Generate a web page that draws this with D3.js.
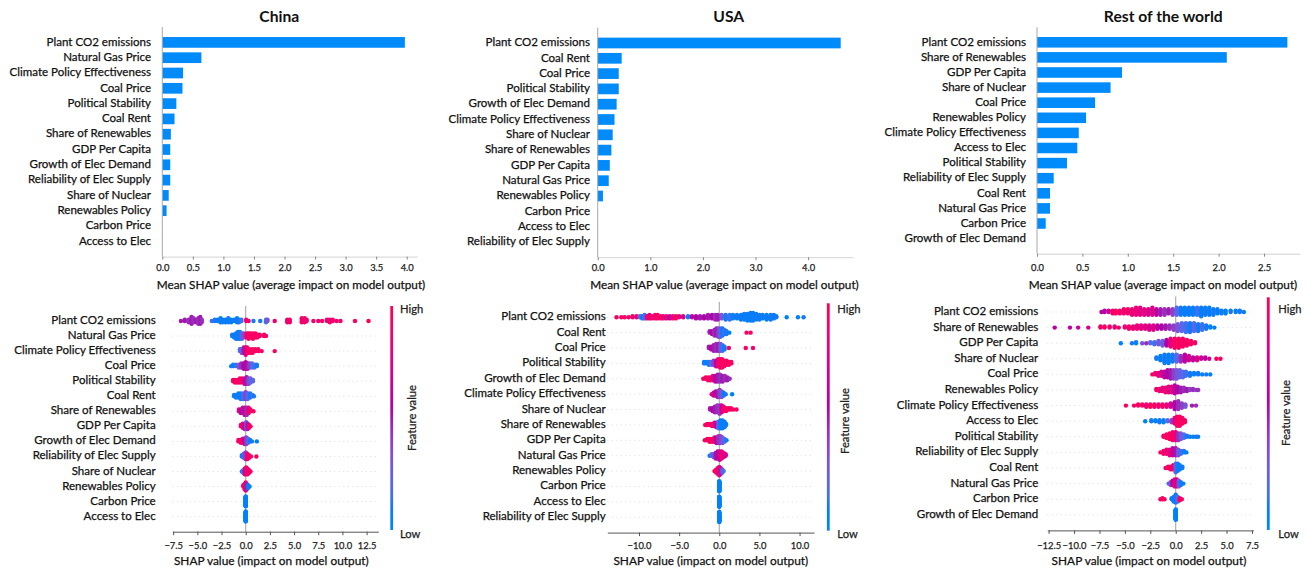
<!DOCTYPE html>
<html>
<head>
<meta charset="utf-8">
<script src="https://cdn.jsdelivr.net/npm/d3@7"></script>
<style>
  html, body { margin: 0; padding: 0; background: #ffffff; }
  svg { display: block; }
</style>
</head>
<body>
<svg id="chart" width="1307" height="569"></svg>
<script>
// ---------------------------------------------------------------
// Data: mean |SHAP| per feature (bar panels) and SHAP beeswarm
// readings per feature. Beeswarm entries are [shap, featureValue, count].
// ---------------------------------------------------------------

const chinaFeatures = ["Plant CO2 emissions", "Natural Gas Price", "Climate Policy Effectiveness", "Coal Price",
  "Political Stability", "Coal Rent", "Share of Renewables", "GDP Per Capita", "Growth of Elec Demand",
  "Reliability of Elec Supply", "Share of Nuclear", "Renewables Policy", "Carbon Price", "Access to Elec"];
const chinaMeanShap = [3.97, 0.64, 0.34, 0.33, 0.23, 0.20, 0.14, 0.13, 0.13, 0.13, 0.105, 0.07, 0, 0];

const usaFeatures = ["Plant CO2 emissions", "Coal Rent", "Coal Price", "Political Stability", "Growth of Elec Demand",
  "Climate Policy Effectiveness", "Share of Nuclear", "Share of Renewables", "GDP Per Capita", "Natural Gas Price",
  "Renewables Policy", "Carbon Price", "Access to Elec", "Reliability of Elec Supply"];
const usaMeanShap = [4.62, 0.456, 0.40, 0.40, 0.36, 0.32, 0.285, 0.26, 0.23, 0.21, 0.10, 0, 0, 0];

const rowFeatures = ["Plant CO2 emissions", "Share of Renewables", "GDP Per Capita", "Share of Nuclear", "Coal Price",
  "Renewables Policy", "Climate Policy Effectiveness", "Access to Elec", "Political Stability",
  "Reliability of Elec Supply", "Coal Rent", "Natural Gas Price", "Carbon Price", "Growth of Elec Demand"];
const rowMeanShap = [2.757, 2.09, 0.936, 0.81, 0.64, 0.54, 0.46, 0.444, 0.33, 0.184, 0.143, 0.143, 0.096, 0];

const chinaBarTicks = [0, 0.5, 1, 1.5, 2, 2.5, 3, 3.5, 4];
const usaBarTicks = [0, 1, 2, 3, 4];
const rowBarTicks = [0, 0.5, 1, 1.5, 2, 2.5];
const chinaSwarmTicks = [-7.5, -5, -2.5, 0, 2.5, 5, 7.5, 10, 12.5];
const usaSwarmTicks = [-10, -5, 0, 5, 10];
const rowSwarmTicks = [-12.5, -10, -7.5, -5, -2.5, 0, 2.5, 5, 7.5];

const chinaSwarm = [
  // Plant CO2 emissions
  [[-6.7,0.5,1],[-6.3,0.5,2],[-5.9,0.45,3],[-5.6,0.5,6],[-5.4,0.45,4],[-5.1,0.5,3],[-4.9,0.45,5],[-4.7,0.5,6],[-4.55,0.45,3],
   [-3.5,0.15,1],[-3.2,0.1,2],[-2.9,0.1,2],[-2.6,0.05,4],[-2.4,0.1,3],[-2.1,0.05,3],[-1.8,0.1,4],[-1.5,0.05,3],[-1.2,0.1,2],
   [-0.9,0.05,4],[-0.7,0.1,3],[-0.45,0.15,2],[0.05,0.85,2],[0.3,0.9,1],[0.8,0.1,1],[1.5,0.1,1],[2.1,0.15,3],[2.25,0.3,2],
   [3.0,0.85,1],[4.3,0.85,3],[4.55,0.9,3],[5.8,0.85,4],[6.1,0.9,4],[6.3,0.85,2],[7.0,0.9,1],[7.5,0.85,1],[7.9,0.9,1],
   [8.4,0.9,2],[8.7,0.85,3],[9.0,0.9,2],[9.4,0.85,1],[9.8,0.9,1],[11.3,0.95,1],[12.7,1,1]],
  // Natural Gas Price
  [[-1.4,0.1,2],[-1.2,0.05,3],[-1.0,0.1,5],[-0.8,0.05,6],[-0.6,0.1,6],[-0.4,0.2,5],[-0.2,0.35,4],[0.1,0.9,4],[0.3,0.95,5],
   [0.5,0.9,4],[0.75,0.95,5],[1.0,0.9,4],[1.2,0.95,3],[1.45,0.9,2],[1.9,0.95,2],[2.1,0.9,1]],
  // Climate Policy Effectiveness
  [[-0.6,0.15,2],[-0.4,0.3,3],[-0.2,0.5,4],[0.0,0.7,5],[0.15,0.9,4],[0.4,0.95,3],[0.7,0.9,3],[1.0,0.95,2],[1.3,0.9,2],
   [1.65,0.9,1],[3.0,0.95,1]],
  // Coal Price
  [[-1.5,0.1,1],[-1.3,0.05,2],[-1.0,0.15,2],[-0.7,0.3,3],[-0.45,0.45,4],[-0.2,0.55,5],[0.0,0.6,6],[0.2,0.5,5],[0.4,0.4,4],
   [0.65,0.2,4],[0.9,0.15,3],[1.15,0.1,2]],
  // Political Stability
  [[-1.3,0.95,2],[-1.1,0.9,3],[-0.85,0.95,3],[-0.6,0.9,4],[-0.35,0.85,4],[-0.1,0.7,5],[0.1,0.5,6],[0.3,0.35,5],[0.5,0.25,4],[0.75,0.2,2]],
  // Coal Rent
  [[-1.2,0.05,2],[-1.0,0.1,3],[-0.75,0.05,4],[-0.5,0.1,5],[-0.25,0.15,5],[0.0,0.4,6],[0.2,0.2,5],[0.45,0.1,4],[0.7,0.15,2],[0.85,0.1,1]],
  // Share of Renewables
  [[-0.7,0.85,2],[-0.5,0.6,3],[-0.3,0.5,4],[-0.1,0.7,5],[0.1,0.45,5],[0.3,0.8,4],[0.5,0.9,2],[0.8,0.95,1]],
  // GDP Per Capita
  [[-0.5,0.9,2],[-0.3,0.85,4],[-0.1,0.6,5],[0.05,0.3,6],[0.2,0.5,5],[0.35,0.85,3],[0.5,0.9,1]],
  // Growth of Elec Demand
  [[-0.75,0.95,2],[-0.5,0.9,3],[-0.3,0.85,4],[-0.1,0.6,5],[0.05,0.4,6],[0.25,0.2,4],[0.45,0.1,2],[0.65,0.1,1],[1.15,0.05,1]],
  // Reliability of Elec Supply
  [[-0.4,0.1,2],[-0.2,0.15,4],[0.0,0.4,6],[0.15,0.85,5],[0.35,0.9,3],[0.55,0.95,1],[1.1,0.95,1]],
  // Share of Nuclear
  [[-0.4,0.1,1],[-0.25,0.2,3],[-0.1,0.5,5],[0.05,0.85,6],[0.2,0.9,5],[0.35,0.85,3],[0.5,0.9,1]],
  // Renewables Policy
  [[-0.25,0.9,2],[-0.1,0.95,5],[0.0,0.85,7],[0.1,0.5,5],[0.25,0.1,3],[0.4,0.05,1]],
  // Carbon Price
  [[0,0.05,30]],
  // Access to Elec
  [[0,0.05,30]]
];

const usaSwarm = [
  // Plant CO2 emissions
  [[-12.8,0.95,1],[-12.2,0.9,1],[-11.8,0.95,1],[-11.3,0.9,1],[-10.8,0.85,2],[-10.3,0.9,2],[-9.9,0.2,2],[-9.6,0.1,3],[-9.3,0.15,4],
   [-9.0,0.85,3],[-8.7,0.8,4],[-8.4,0.9,3],[-8.0,0.85,4],[-7.7,0.95,4],[-7.3,0.8,3],[-7.0,0.9,3],[-6.6,0.75,3],[-6.2,0.6,3],
   [-5.8,0.85,3],[-5.4,0.9,3],[-5.0,0.8,2],[-4.5,0.7,2],[-3.9,0.1,2],[-3.4,0.6,2],[-2.9,0.55,3],[-2.4,0.5,3],[-1.9,0.55,3],
   [-1.4,0.5,4],[-0.9,0.55,4],[-0.5,0.45,5],[-0.2,0.5,5],[0.3,0.3,4],[0.8,0.1,5],[1.3,0.15,5],[1.7,0.05,4],[2.2,0.1,4],
   [2.7,0.05,5],[3.1,0.1,6],[3.5,0.05,7],[3.9,0.1,8],[4.2,0.05,8],[4.6,0.1,6],[5.0,0.05,5],[5.4,0.1,4],[5.9,0.05,5],
   [6.4,0.1,5],[6.8,0.05,4],[7.1,0.1,2],[8.4,0.05,1],[9.8,0.05,1],[10.5,0.1,1]],
  // Coal Rent
  [[-1.2,0.5,2],[-0.9,0.55,3],[-0.6,0.45,5],[-0.35,0.5,6],[-0.1,0.4,7],[0.15,0.2,7],[0.4,0.1,6],[0.65,0.15,4],[0.9,0.1,3],
   [1.25,0.05,1],[3.4,0.95,1],[3.9,0.9,1]],
  // Coal Price
  [[-1.3,0.5,2],[-1.0,0.55,3],[-0.7,0.5,5],[-0.4,0.45,6],[-0.1,0.5,6],[0.15,0.3,6],[0.4,0.15,5],[0.65,0.1,3],[1.2,0.95,1],
   [3.3,0.95,1],[4.2,0.9,1]],
  // Political Stability
  [[-1.9,0.1,2],[-1.6,0.05,2],[-1.3,0.1,3],[-1.0,0.2,3],[-0.7,0.4,4],[-0.4,0.6,5],[-0.15,0.8,6],[0.1,0.9,7],[0.35,0.95,7],
   [0.6,0.9,5],[0.9,0.95,4],[1.2,0.9,3],[1.5,0.95,2]],
  // Growth of Elec Demand
  [[-2.0,0.95,1],[-1.7,0.9,2],[-1.4,0.95,3],[-1.1,0.85,3],[-0.8,0.8,4],[-0.5,0.6,5],[-0.2,0.5,6],[0.1,0.45,6],[0.4,0.5,5],
   [0.7,0.45,4],[1.0,0.5,3],[1.3,0.45,1]],
  // Climate Policy Effectiveness
  [[-0.95,0.8,1],[-0.7,0.7,3],[-0.45,0.6,4],[-0.2,0.5,5],[0.05,0.4,6],[0.3,0.3,5],[0.55,0.1,3],[0.8,0.1,1],[1.6,0.05,1]],
  // Share of Nuclear
  [[-1.15,0.5,2],[-0.85,0.55,3],[-0.55,0.5,5],[-0.25,0.45,6],[0.05,0.4,7],[0.3,0.7,6],[0.55,0.85,4],[0.85,0.9,3],[1.15,0.95,2],
   [1.45,0.9,2],[1.75,0.95,1],[2.15,0.9,1]],
  // Share of Renewables
  [[-1.75,0.95,1],[-1.5,0.9,2],[-1.2,0.95,2],[-0.9,0.85,3],[-0.6,0.8,4],[-0.35,0.6,5],[-0.1,0.2,7],[0.15,0.1,8],[0.4,0.05,8],
   [0.65,0.1,6],[0.85,0.05,2]],
  // GDP Per Capita
  [[-1.8,0.95,1],[-1.5,0.9,2],[-1.2,0.95,3],[-0.9,0.9,3],[-0.6,0.85,4],[-0.35,0.6,5],[-0.1,0.45,6],[0.15,0.4,6],[0.4,0.3,5],
   [0.65,0.2,3],[0.9,0.1,1]],
  // Natural Gas Price
  [[-1.2,0.1,1],[-0.95,0.15,2],[-0.7,0.3,3],[-0.45,0.5,5],[-0.2,0.6,6],[0.05,0.65,7],[0.3,0.8,6],[0.55,0.85,4],[0.8,0.7,2]],
  // Renewables Policy
  [[-0.6,0.9,1],[-0.4,0.95,3],[-0.2,0.9,5],[0.0,0.85,7],[0.2,0.5,5],[0.4,0.3,3],[0.55,0.15,1]],
  // Carbon Price
  [[0,0.05,30]],
  // Access to Elec
  [[0,0.05,30]],
  // Reliability of Elec Supply
  [[0,0.05,30]]
];

const rowSwarm = [
  // Plant CO2 emissions
  [[-7.3,0.6,1],[-7.0,0.55,2],[-6.6,0.7,2],[-6.2,0.9,3],[-5.9,0.95,3],[-5.5,0.9,3],[-5.1,0.85,4],[-4.7,0.9,4],[-4.3,0.8,5],
   [-3.9,0.85,6],[-3.5,0.75,6],[-3.1,0.8,5],[-2.7,0.7,5],[-2.3,0.75,6],[-1.9,0.6,5],[-1.5,0.5,5],[-1.1,0.45,5],[-0.7,0.5,4],
   [-0.3,0.4,5],[0.1,0.2,6],[0.5,0.1,6],[0.9,0.05,6],[1.3,0.1,6],[1.7,0.05,6],[2.1,0.15,6],[2.5,0.05,7],[2.9,0.1,6],
   [3.3,0.05,6],[3.7,0.1,5],[4.1,0.05,4],[4.5,0.1,3],[4.9,0.05,3],[5.4,0.1,2],[5.9,0.05,2],[6.3,0.1,2],[6.7,0.05,1]],
  // Share of Renewables
  [[-11.9,0.6,1],[-10.4,0.6,1],[-9.6,0.65,1],[-8.6,0.7,1],[-7.4,0.9,2],[-7.0,0.95,2],[-6.5,0.9,2],[-6.0,0.85,2],[-5.6,0.9,1],
   [-5.0,0.85,2],[-4.6,0.9,3],[-4.2,0.8,3],[-3.8,0.85,4],[-3.4,0.75,4],[-3.0,0.8,4],[-2.6,0.7,5],[-2.2,0.75,5],[-1.8,0.6,4],
   [-1.4,0.55,4],[-1.0,0.5,4],[-0.6,0.45,4],[-0.2,0.4,5],[0.2,0.3,7],[0.6,0.2,8],[1.0,0.15,9],[1.4,0.1,9],[1.8,0.2,8],
   [2.2,0.1,7],[2.6,0.15,6],[3.0,0.1,4],[3.4,0.05,2],[3.8,0.05,1]],
  // GDP Per Capita
  [[-5.4,0.05,1],[-4.3,0.1,1],[-3.9,0.05,2],[-3.3,0.3,1],[-2.9,0.45,1],[-2.5,0.2,2],[-2.1,0.15,3],[-1.7,0.3,4],[-1.3,0.25,5],
   [-0.9,0.55,6],[-0.5,0.8,8],[-0.1,0.9,9],[0.3,0.95,9],[0.7,0.9,8],[1.1,0.95,6],[1.5,0.9,4],[1.9,0.95,2]],
  // Share of Nuclear
  [[-1.9,0.1,2],[-1.5,0.05,4],[-1.1,0.1,7],[-0.7,0.05,7],[-0.3,0.1,6],[0.1,0.2,6],[0.5,0.45,5],[0.9,0.6,6],[1.3,0.7,4],
   [1.7,0.6,3],[2.1,0.75,3],[2.5,0.65,2],[2.9,0.6,2],[3.3,0.7,1],[4.0,0.95,1],[4.4,0.9,1]],
  // Coal Price
  [[-2.3,0.9,1],[-2.0,0.85,2],[-1.7,0.8,3],[-1.4,0.7,4],[-1.1,0.6,5],[-0.8,0.55,6],[-0.5,0.5,7],[-0.2,0.4,7],[0.1,0.3,7],
   [0.4,0.25,6],[0.7,0.2,5],[1.0,0.15,4],[1.4,0.1,3],[1.8,0.05,2],[2.2,0.1,2],[2.6,0.05,1],[3.0,0.1,1],[3.4,0.05,1]],
  // Renewables Policy
  [[-1.9,0.9,2],[-1.6,0.85,3],[-1.3,0.8,4],[-1.0,0.85,5],[-0.7,0.75,6],[-0.4,0.8,6],[-0.1,0.6,8],[0.2,0.55,6],[0.5,0.5,5],
   [0.8,0.45,4],[1.1,0.5,3],[1.4,0.4,2],[1.7,0.45,2],[2.0,0.4,1],[2.2,0.45,1]],
  // Climate Policy Effectiveness
  [[-4.9,0.95,1],[-4.1,0.9,1],[-3.7,0.95,2],[-3.3,0.9,2],[-2.9,0.85,3],[-2.5,0.95,3],[-2.1,0.9,3],[-1.7,0.85,3],[-1.3,0.9,3],
   [-0.9,0.8,3],[-0.5,0.7,4],[-0.1,0.55,7],[0.25,0.45,8],[0.6,0.4,5],[0.95,0.3,3],[1.6,0.5,1],[2.0,0.45,1]],
  // Access to Elec
  [[-3.0,0.05,1],[-2.4,0.1,2],[-2.0,0.05,2],[-1.6,0.1,3],[-1.2,0.05,3],[-0.8,0.2,2],[-0.4,0.4,3],[-0.1,0.8,6],[0.15,0.9,9],
   [0.4,0.95,9],[0.65,0.9,6],[0.9,0.95,3]],
  // Political Stability
  [[-1.2,0.95,2],[-0.9,0.9,4],[-0.6,0.95,6],[-0.3,0.9,8],[0.0,0.8,8],[0.25,0.45,7],[0.5,0.3,6],[0.8,0.2,4],[1.1,0.1,2],
   [1.4,0.05,1],[1.7,0.1,1],[2.0,0.05,1],[2.2,0.1,1]],
  // Reliability of Elec Supply
  [[-1.5,0.95,1],[-1.2,0.9,3],[-0.9,0.85,4],[-0.6,0.8,5],[-0.3,0.65,6],[0.0,0.5,6],[0.25,0.3,5],[0.5,0.15,3],[0.8,0.1,2],[1.05,0.05,1]],
  // Coal Rent
  [[-1.0,0.95,1],[-0.75,0.9,2],[-0.5,0.95,3],[-0.25,0.85,4],[0.0,0.2,7],[0.2,0.1,6],[0.4,0.05,4],[0.65,0.1,2]],
  // Natural Gas Price
  [[-0.7,0.15,1],[-0.5,0.3,3],[-0.3,0.6,4],[-0.1,0.8,6],[0.1,0.7,6],[0.3,0.3,5],[0.5,0.1,3],[0.75,0.05,1]],
  // Carbon Price
  [[-1.5,0.95,1],[-1.3,0.9,2],[-1.1,0.95,1],[-0.4,0.1,2],[-0.2,0.05,5],[0.0,0.1,8],[0.2,0.2,5],[0.4,0.9,3],[0.6,0.95,1]],
  // Growth of Elec Demand
  [[0,0.05,30]]
];

// ---------------------------------------------------------------
// Layout
// ---------------------------------------------------------------
const FONT = "Lato, 'Open Sans', 'DejaVu Sans', sans-serif";
const TEXT = "#111111";
const AXIS = "#222222";
const BAR_BLUE = "#008bfb";

const barLayout = [
  { title: "China", titleX: 279.3, domain: [0, 4.17], range: [162.3, 417.1], rowTop: 27.1, rowBottom: 256.6, labelX: 151, axisTitleX: 291 },
  { title: "USA", titleX: 728.8, domain: [0, 4.85], range: [597.7, 852.8], rowTop: 27.7, rowBottom: 257.2, labelX: 590, axisTitleX: 724.5 },
  { title: "Rest of the world", titleX: 1163.3, domain: [0, 2.895], range: [1037, 1299.9], rowTop: 27.2, rowBottom: 253.7, labelX: 1026, axisTitleX: 1163 }
];
const swarmLayout = [
  { domain: [-7.59, 13.71], range: [172.3, 378.3], rowTop: 305.95, rowBottom: 531.7, labelX: 155.7, axisTitleX: 271.3,
    cbX: 390.3, cbTop: 306, cbBottom: 530, cbTextX: 400, cbTitleX: 412.3, cbTitleY: 418 },
  { domain: [-13.95, 11.8], range: [607.3, 814], rowTop: 301.9, rowBottom: 532.6, labelX: 605.7, axisTitleX: 710.8,
    cbX: 826.9, cbTop: 303.3, cbBottom: 530.7, cbTextX: 837.3, cbTitleX: 845, cbTitleY: 421 },
  { domain: [-12.63, 7.63], range: [1047.3, 1253.3], rowTop: 296.4, rowBottom: 530.4, labelX: 1038.3, axisTitleX: 1149,
    cbX: 1266.9, cbTop: 297.3, cbBottom: 530, cbTextX: 1278.3, cbTitleX: 1286, cbTitleY: 413 }
];

const svg = d3.select("#chart");

// Font sizes calibrated from rendered string widths
const probe = svg.append("text").attr("font-family", FONT).attr("x", -2000).attr("y", -2000);
function fitSize(str, width, weight) {
  probe.attr("font-size", 100).attr("font-weight", weight || "normal").text(str);
  return 100 * width / probe.node().getComputedTextLength();
}
const labelSize = fitSize("Climate Policy Effectiveness", 141.5);
const tickSize = fitSize("10.0", 18.5);
const titleSize = fitSize("Rest of the world", 119, "bold");
const barAxisTitleSize = fitSize("Mean SHAP value (average impact on model output)", 269);
const swarmAxisTitleSize = fitSize("SHAP value (impact on model output)", 195);
const cbTextSize = fitSize("Feature value", 66);
probe.remove();

// light outline keeps the small text as dense as the printed labels
function inkText(sel, color) {
  return sel.attr("fill", color).attr("stroke", color).attr("stroke-width", 0.25);
}

// SHAP red-blue colour map in LCh space (blue -> purple -> red)
function featureColor(t) {
  t = Math.max(0, Math.min(1, t));
  const l = t < 0.5 ? 54 + (40 - 54) * (t / 0.5) : 40 + (54 - 40) * ((t - 0.5) / 0.5);
  const c = 70 + (90 - 70) * t;
  const h = 266.93 + (380.32 - 266.93) * t;
  return d3.hcl(h % 360, c, l).formatHex();
}

// ---------------------------------------------------------------
// Bar panels (mean |SHAP|)
// ---------------------------------------------------------------
function drawBarPanel(cfg, features, values, ticks) {
  const g = svg.append("g");
  const x = d3.scaleLinear().domain(cfg.domain).range(cfg.range);
  const y = d3.scaleLinear().domain([-1, features.length]).range([cfg.rowTop, cfg.rowBottom]);
  const barH = y(0.35) - y(-0.35);

  g.append("text")
    .attr("x", cfg.titleX).attr("y", 21.5)
    .attr("text-anchor", "middle")
    .attr("font-family", FONT).attr("font-weight", "bold").attr("font-size", titleSize)
    .attr("fill", "#111").text(cfg.title);

  g.selectAll("rect.bar").data(values).join("rect")
    .attr("class", "bar")
    .attr("x", x(0))
    .attr("y", (d, i) => y(i) - barH / 2)
    .attr("width", d => Math.max(0, x(d) - x(0)))
    .attr("height", barH)
    .attr("fill", BAR_BLUE);

  inkText(g.selectAll("text.flabel").data(features).join("text")
    .attr("class", "flabel")
    .attr("x", cfg.labelX).attr("y", (d, i) => y(i) + 3.2)
    .attr("text-anchor", "end")
    .attr("font-family", FONT).attr("font-size", labelSize)
    .text(d => d), TEXT);

  // left spine
  g.append("line")
    .attr("x1", x(0)).attr("x2", x(0))
    .attr("y1", y(-1)).attr("y2", y(features.length))
    .attr("stroke", "#a8a8a8").attr("stroke-width", 1);

  const axis = d3.axisBottom(x).tickValues(ticks).tickFormat(d3.format(".1f")).tickSize(3).tickSizeOuter(0);
  const ag = g.append("g").attr("transform", `translate(0,${y(features.length)})`).call(axis);
  ag.select(".domain").attr("stroke", "#c8c8c8").attr("stroke-width", 0.8);
  ag.selectAll(".tick line").attr("stroke", "#888");
  inkText(ag.selectAll(".tick text")
    .attr("y", null).attr("dy", null)
    .attr("transform", `translate(0,${271 - y(features.length)})`)
    .attr("font-family", FONT).attr("font-size", tickSize), AXIS);

  inkText(g.append("text")
    .attr("x", cfg.axisTitleX).attr("y", 289)
    .attr("text-anchor", "middle")
    .attr("font-family", FONT).attr("font-size", barAxisTitleSize)
    .text("Mean SHAP value (average impact on model output)"), TEXT);
}

// ---------------------------------------------------------------
// Beeswarm panels (SHAP value per sample, coloured by feature value)
// ---------------------------------------------------------------
function layoutRow(entries) {
  const pts = [];
  entries.forEach(([s, fv, n]) => { for (let k = 0; k < n; k++) pts.push({ s, fv }); });
  const lo = d3.min(pts, p => p.s), hi = d3.max(pts, p => p.s);
  const nbins = 100;
  pts.forEach(p => { p.q = Math.round(nbins * (p.s - lo) / (hi - lo + 1e-8)); });
  const order = pts.map((p, i) => i).sort((a, b) => (pts[a].q - pts[b].q) || (a - b));
  let layer = 0, last = -1;
  order.forEach(i => {
    const p = pts[i];
    if (p.q !== last) layer = 0;
    p.ly = Math.ceil(layer / 2) * ((layer % 2) * 2 - 1);
    layer += 1;
    last = p.q;
  });
  const maxL = d3.max(pts, p => p.ly + 1);
  pts.forEach(p => { p.dy = p.ly * 0.9 * 0.4 / maxL; });
  return pts;
}

function drawSwarmPanel(cfg, features, rows, ticks, gradId) {
  const g = svg.append("g");
  const x = d3.scaleLinear().domain(cfg.domain).range(cfg.range);
  const y = d3.scaleLinear().domain([-1, features.length]).range([cfg.rowTop, cfg.rowBottom]);

  // row guides
  g.selectAll("line.grid").data(features).join("line")
    .attr("class", "grid")
    .attr("x1", cfg.range[0]).attr("x2", cfg.range[1])
    .attr("y1", (d, i) => y(i)).attr("y2", (d, i) => y(i))
    .attr("stroke", "#cfcfcf").attr("stroke-width", 0.7).attr("stroke-dasharray", "1,3.5");

  // zero line
  g.append("line")
    .attr("x1", x(0)).attr("x2", x(0))
    .attr("y1", y(-1)).attr("y2", y(features.length))
    .attr("stroke", "#a0a0a0").attr("stroke-width", 1);

  rows.forEach((entries, i) => {
    const pts = layoutRow(entries);
    g.append("g").selectAll("circle").data(pts).join("circle")
      .attr("cx", d => x(d.s))
      .attr("cy", d => y(i - d.dy))
      .attr("r", 2.2)
      .attr("fill", d => featureColor(d.fv));
  });

  inkText(g.selectAll("text.flabel").data(features).join("text")
    .attr("class", "flabel")
    .attr("x", cfg.labelX).attr("y", (d, i) => y(i) + 3)
    .attr("text-anchor", "end")
    .attr("font-family", FONT).attr("font-size", labelSize)
    .text(d => d), TEXT);

  const axis = d3.axisBottom(x).tickValues(ticks).tickFormat(d3.format(".1f")).tickSize(3.5).tickSizeOuter(0);
  const ag = g.append("g").attr("transform", `translate(0,${y(features.length)})`).call(axis);
  ag.select(".domain").attr("stroke", "#555").attr("stroke-width", 1);
  ag.selectAll(".tick line").attr("stroke", "#555");
  inkText(ag.selectAll(".tick text")
    .attr("y", null).attr("dy", null)
    .attr("transform", `translate(0,${549 - y(features.length)})`)
    .attr("font-family", FONT).attr("font-size", tickSize), AXIS);

  inkText(g.append("text")
    .attr("x", cfg.axisTitleX).attr("y", 565)
    .attr("text-anchor", "middle")
    .attr("font-family", FONT).attr("font-size", swarmAxisTitleSize)
    .text("SHAP value (impact on model output)"), TEXT);

  // colour bar
  const cb = d3.scaleLinear().domain([0, 1]).range([cfg.cbBottom, cfg.cbTop]);
  const grad = svg.append("defs").append("linearGradient")
    .attr("id", gradId).attr("x1", 0).attr("y1", 1).attr("x2", 0).attr("y2", 0);
  d3.range(0, 1.0001, 0.05).forEach(t => {
    grad.append("stop").attr("offset", t).attr("stop-color", featureColor(t));
  });
  g.append("rect")
    .attr("x", cfg.cbX).attr("y", cb(1)).attr("width", 2.8).attr("height", cb(0) - cb(1))
    .attr("fill", `url(#${gradId})`);
  inkText(g.append("text").attr("x", cfg.cbTextX).attr("y", 309.5).attr("dy", "0.35em")
    .attr("font-family", FONT).attr("font-size", cbTextSize).text("High"), AXIS);
  inkText(g.append("text").attr("x", cfg.cbTextX).attr("y", 534.5).attr("dy", "0.35em")
    .attr("font-family", FONT).attr("font-size", cbTextSize).text("Low"), AXIS);
  inkText(g.append("text")
    .attr("transform", `translate(${cfg.cbTitleX},${cfg.cbTitleY}) rotate(-90)`)
    .attr("text-anchor", "middle").attr("dy", "0.35em")
    .attr("font-family", FONT).attr("font-size", cbTextSize).text("Feature value"), AXIS);
}

drawBarPanel(barLayout[0], chinaFeatures, chinaMeanShap, chinaBarTicks);
drawBarPanel(barLayout[1], usaFeatures, usaMeanShap, usaBarTicks);
drawBarPanel(barLayout[2], rowFeatures, rowMeanShap, rowBarTicks);

drawSwarmPanel(swarmLayout[0], chinaFeatures, chinaSwarm, chinaSwarmTicks, "cb-china");
drawSwarmPanel(swarmLayout[1], usaFeatures, usaSwarm, usaSwarmTicks, "cb-usa");
drawSwarmPanel(swarmLayout[2], rowFeatures, rowSwarm, rowSwarmTicks, "cb-row");
</script>
</body>
</html>
